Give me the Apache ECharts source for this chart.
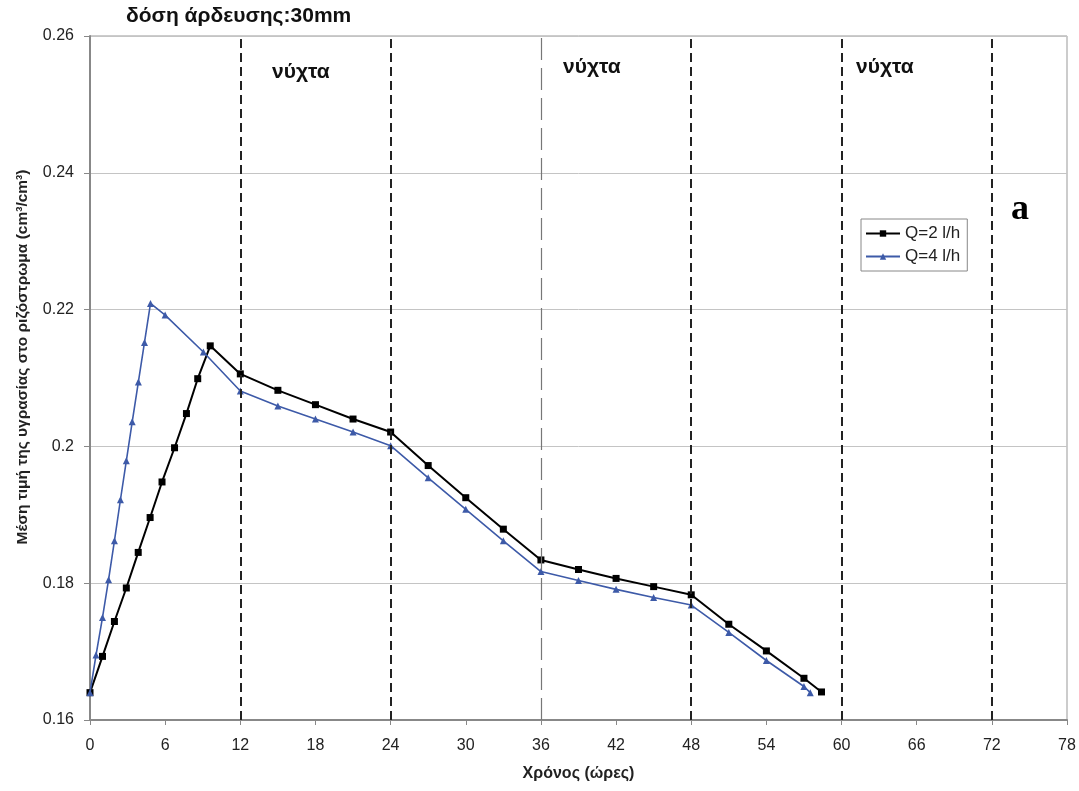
<!DOCTYPE html>
<html>
<head>
<meta charset="utf-8">
<script src="https://cdn.jsdelivr.net/npm/echarts@6/dist/echarts.min.js"></script>
<style>html,body{margin:0;padding:0;background:#fff}#c{width:1079px;height:791px}</style>
</head>
<body>
<div id="c"></div>
<script>
// Data
var hoursQ2 = [0, 1.0, 1.95, 2.9, 3.85, 4.8, 5.75, 6.75, 7.7, 8.6, 9.6, 12, 15, 18, 21, 24, 27, 30, 33, 36, 39, 42, 45, 48, 51, 54, 57, 58.4];
var moistQ2 = [0.164, 0.1693, 0.1744, 0.1793, 0.1845, 0.1896, 0.1948, 0.1998, 0.2048, 0.2099, 0.2147, 0.2106, 0.2082, 0.2061, 0.2040, 0.2021, 0.1972, 0.1925, 0.1879, 0.1834, 0.1820, 0.1807, 0.1795, 0.1783, 0.1740, 0.1701, 0.1661, 0.1641];
var hoursQ4 = [0, 0.48, 1.0, 1.48, 1.95, 2.43, 2.9, 3.37, 3.86, 4.35, 4.83, 6.0, 9.05, 12, 15, 18, 21, 24, 27, 30, 33, 36, 39, 42, 45, 48, 51, 54, 57, 57.5];
var moistQ4 = [0.164, 0.1695, 0.1750, 0.1805, 0.1862, 0.1922, 0.1979, 0.2036, 0.2094, 0.2152, 0.2209, 0.2192, 0.2138, 0.2081, 0.2059, 0.2040, 0.2021, 0.2001, 0.1954, 0.1908, 0.1862, 0.1817, 0.1804, 0.1791, 0.1779, 0.1768, 0.1728, 0.1687, 0.1649, 0.1640];
var nightLines = [12, 24, 48, 60, 72];
var middayLines = [36];
var seriesNames = ['Q=2 l/h', 'Q=4 l/h'];
var xTicks = {min: 0, max: 78, step: 6};
var yTicks = {min: 0.16, max: 0.26, step: 0.02};

function pairs(xs, ys) { return xs.map(function (x, i) { return [x, ys[i]]; }); }

var FONT = '"Liberation Sans", Arial, sans-serif';
var chart = echarts.init(document.getElementById('c'));

var markData = nightLines.map(function (v) {
  return {xAxis: v, lineStyle: {color: '#222', type: [9, 5], width: 2}};
}).concat(middayLines.map(function (v) {
  return {xAxis: v, lineStyle: {color: '#777', type: [22, 8], width: 1.2}};
}));

chart.setOption({
  animation: false,
  backgroundColor: '#fff',
  grid: {left: 90, right: 12, top: 36, bottom: 71, show: true, borderColor: '#999', borderWidth: 1},
  legend: {
    orient: 'vertical', left: 861, top: 219,
    padding: [6, 7, 6, 4], itemGap: 6,
    borderColor: '#888', borderWidth: 1,
    itemWidth: 34, itemHeight: 8,
    textStyle: {fontFamily: FONT, fontSize: 17, color: '#222'},
    data: seriesNames
  },
  xAxis: {
    type: 'value', min: xTicks.min, max: xTicks.max, interval: xTicks.step,
    name: 'Χρόνος (ώρες)', nameLocation: 'middle', nameGap: 46,
    nameTextStyle: {fontFamily: FONT, fontSize: 16, fontWeight: 'bold', color: '#222'},
    axisLine: {lineStyle: {color: '#888', width: 2}},
    axisTick: {show: true, lineStyle: {color: '#888'}, length: 5},
    axisLabel: {fontFamily: FONT, fontSize: 16, color: '#222', margin: 18},
    splitLine: {show: false}
  },
  yAxis: {
    type: 'value', min: yTicks.min, max: yTicks.max, interval: yTicks.step,
    axisLine: {show: true, lineStyle: {color: '#888', width: 2}},
    axisTick: {show: true, lineStyle: {color: '#888'}, length: 6},
    axisLabel: {fontFamily: FONT, fontSize: 16, color: '#222', margin: 16},
    splitLine: {show: true, lineStyle: {color: '#c4c4c4', width: 1}}
  },
  series: [
    {
      name: seriesNames[0], type: 'line', data: pairs(hoursQ2, moistQ2),
      symbol: 'rect', symbolSize: 7, z: 3,
      lineStyle: {color: '#000', width: 2}, itemStyle: {color: '#000'},
      markLine: {silent: true, symbol: 'none', label: {show: false}, data: markData}
    },
    {
      name: seriesNames[1], type: 'line', data: pairs(hoursQ4, moistQ4),
      symbol: 'triangle', symbolSize: 7, z: 4,
      lineStyle: {color: '#3d5aa8', width: 1.6}, itemStyle: {color: '#3d5aa8'}
    }
  ],
  graphic: [
    {type: 'text', x: 23, y: 357, rotation: Math.PI / 2,
      style: {text: 'Μέση τιμή της υγρασίας στο ριζόστρωμα (cm³/cm³)', font: 'bold 15.5px ' + FONT, fill: '#222', align: 'center', verticalAlign: 'middle'}},
    {type: 'text', left: 126, top: 6, style: {text: 'δόση άρδευσης:30mm', font: 'bold 21px ' + FONT, fill: '#111'}},
    {type: 'text', left: 272, top: 62, style: {text: 'νύχτα', font: 'bold 21px ' + FONT, fill: '#111'}},
    {type: 'text', left: 563, top: 57, style: {text: 'νύχτα', font: 'bold 21px ' + FONT, fill: '#111'}},
    {type: 'text', left: 856, top: 57, style: {text: 'νύχτα', font: 'bold 21px ' + FONT, fill: '#111'}},
    {type: 'text', left: 1011, top: 192, style: {text: 'a', font: 'bold 36px "Liberation Serif", "Times New Roman", serif', fill: '#000'}}
  ]
});
</script>
</body>
</html>
